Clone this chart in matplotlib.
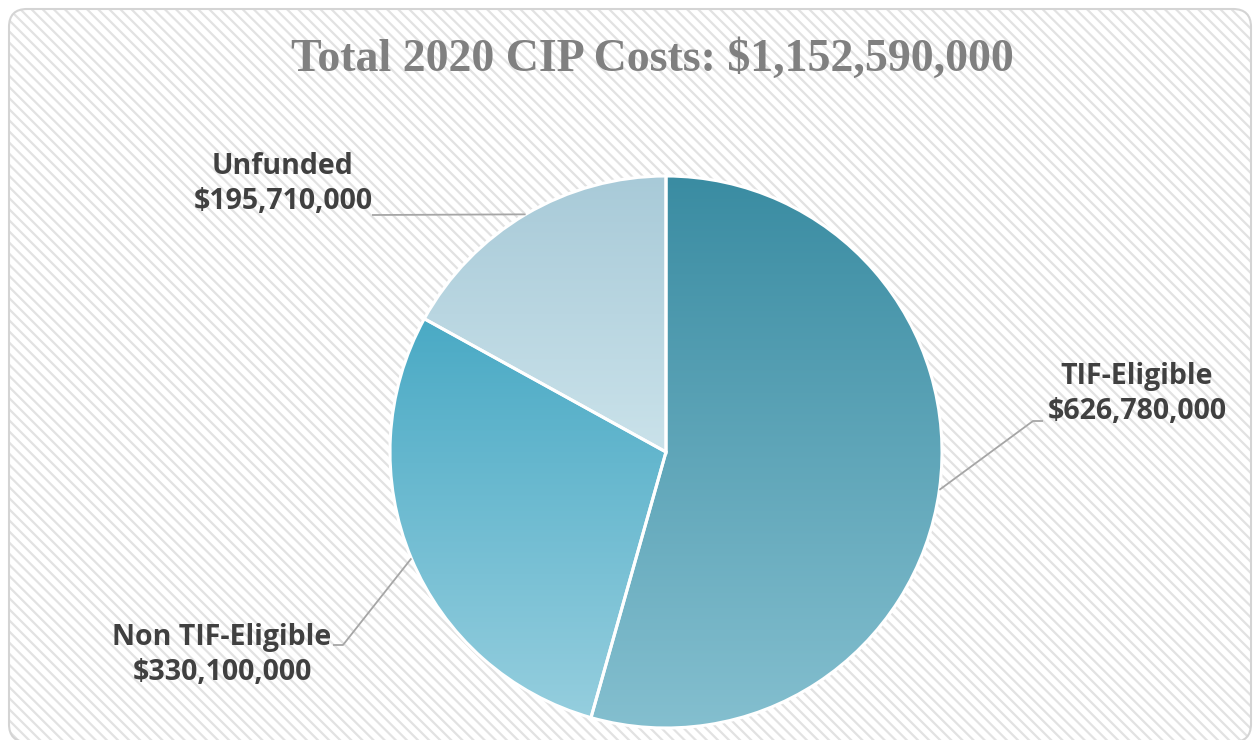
import numpy as np
import matplotlib
matplotlib.use("Agg")
import matplotlib.pyplot as plt
from matplotlib.patches import FancyBboxPatch
from matplotlib.colors import LinearSegmentedColormap

title = "Total 2020 CIP Costs: $1,152,590,000"
categories = ["TIF-Eligible", "Non TIF-Eligible", "Unfunded"]
values = [626780000, 330100000, 195710000]
grad_top = ["#3a8ca2", "#4aaac5", "#a8cad8"]
grad_bot = ["#84bfcf", "#95cede", "#cae2ea"]

plt.rcParams["hatch.linewidth"] = 1.6

W, H = 1253, 740
fig = plt.figure(figsize=(W / 100, H / 100), dpi=100)
ax = fig.add_axes([0, 0, 1, 1])

# background: hatched rounded panel
panel = dict(xy=(9, -2), width=W - 11, height=H - 9 + 2)
bg = FancyBboxPatch(panel["xy"], panel["width"], panel["height"],
                    boxstyle="round,pad=0,rounding_size=18",
                    facecolor="white", edgecolor="#e2e2e2", hatch="\\\\\\", linewidth=0, zorder=0)
ax.add_patch(bg)
border = FancyBboxPatch(panel["xy"], panel["width"], panel["height"],
                        boxstyle="round,pad=0,rounding_size=18",
                        facecolor="none", edgecolor="#d4d4d4", linewidth=1.5, zorder=1)
ax.add_patch(border)

cx, cy, R = 666, 740 - 452, 276
wedges, _ = ax.pie(values, startangle=90, counterclock=False, center=(cx, cy), radius=R,
                   wedgeprops=dict(facecolor="none", edgecolor="white", linewidth=2.2),
                   frame=True)

for w, ct, cb in zip(wedges, grad_top, grad_bot):
    w.set_zorder(4)
    ext = w.get_path().get_extents(w.get_patch_transform())
    cmap = LinearSegmentedColormap.from_list("g", [cb, ct])
    grad = np.linspace(0, 1, 256).reshape(-1, 1)
    im = ax.imshow(grad, cmap=cmap, extent=[ext.x0, ext.x1, ext.y0, ext.y1], origin="lower",
                   aspect="auto", zorder=3, interpolation="bilinear")
    im.set_clip_path(w)

ax.set_xlim(0, W)
ax.set_ylim(0, H)
ax.set_aspect("equal")
ax.axis("off")

# title
ax.text(652, 740 - 60, title, ha="center", va="center", fontsize=33, fontweight="bold",
        family="Liberation Serif", color="#808080", zorder=5)

lab_font = dict(fontsize=20.5, fontweight="bold", family="Open Sans", color="#404040",
                ha="center", va="center", zorder=5, linespacing=1.3)

# label positions & leader elbows (pixel coords, y down)
lab_pos = [(1137, 394), (222, 655), (283, 184)]
elbow = [[(1033, 421), (1043, 421)], [(343, 645), (333, 645)], [(372, 215)]]

total = sum(values)
ang = 90.0
for i, (cat, v) in enumerate(zip(categories, values)):
    span = 360.0 * v / total
    mid = np.deg2rad(ang - span / 2)
    ang -= span
    px, py = cx + R * np.cos(mid), cy + R * np.sin(mid)
    pts = [(px, py)] + [(x, 740 - y) for x, y in elbow[i]]
    xs, ys = zip(*pts)
    ax.plot(xs, ys, color="#a6a6a6", linewidth=1.3, zorder=5, solid_capstyle="butt")
    lx, ly = lab_pos[i]
    ax.text(lx, 740 - ly, f"{cat}\n${v:,.0f}", **lab_font)

fig.savefig("out.png", dpi=100)
